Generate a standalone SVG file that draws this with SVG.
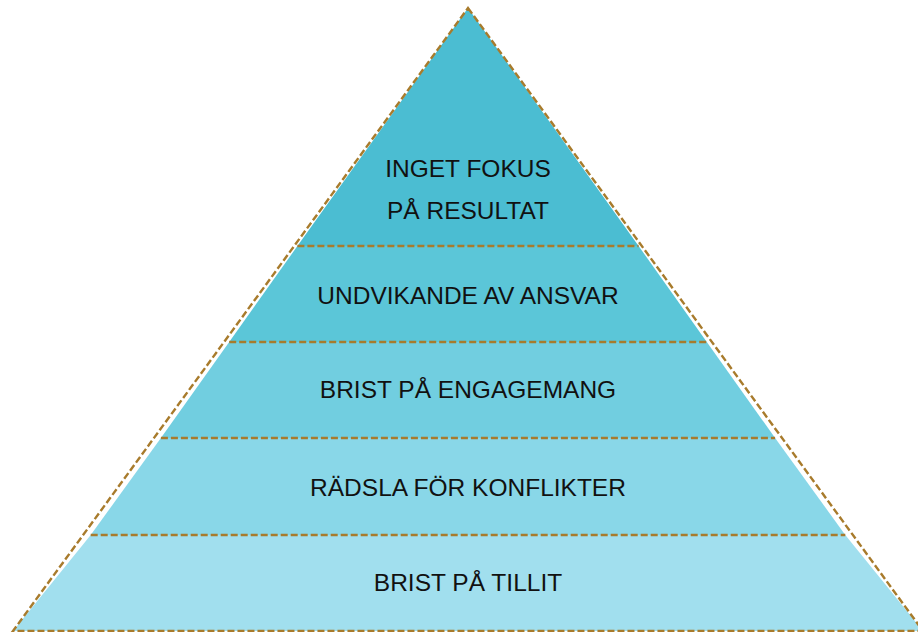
<svg xmlns="http://www.w3.org/2000/svg" width="918" height="632" viewBox="0 0 918 632">
<style>
.lbl{font-family:"Liberation Sans",Arial,sans-serif;font-size:24.5px;fill:#111;text-anchor:middle}
.edge{stroke:#A87B2C;stroke-width:2.4;stroke-dasharray:7 3;fill:none}
</style>
<rect width="918" height="632" fill="#fff"/>
<g id="layer5"><polygon points="90.7,535 845.3,535 923,631 13,631" fill="#A1DFEE"/><text class="lbl" x="468" y="591">BRIST PÅ TILLIT</text></g>
<g id="layer4"><polygon points="160.9,438 775.1,438 845.3,535 90.7,535" fill="#89D7E8"/><text class="lbl" x="468" y="496">RÄDSLA FÖR KONFLIKTER</text></g>
<g id="layer3"><polygon points="229.2,342 706.8,342 775.1,438 160.9,438" fill="#71CEE0"/><text class="lbl" x="468" y="398">BRIST PÅ ENGAGEMANG</text></g>
<g id="layer2"><polygon points="297.4,246 638.6,246 706.8,342 229.2,342" fill="#5BC6D8"/><text class="lbl" x="468" y="304">UNDVIKANDE AV ANSVAR</text></g>
<g id="layer1"><polygon points="468,8 638.6,246 297.4,246" fill="#4BBDD2"/><text class="lbl" x="468" y="177">INGET FOKUS</text><text class="lbl" x="468" y="219">PÅ RESULTAT</text></g>
<g id="connectors">
<polygon class="edge" points="468,8 923,631 13,631"/>
<line class="edge" x1="297.4" y1="246" x2="638.6" y2="246"/>
<line class="edge" x1="229.2" y1="342" x2="706.8" y2="342"/>
<line class="edge" x1="160.9" y1="438" x2="775.1" y2="438"/>
<line class="edge" x1="90.7" y1="535" x2="845.3" y2="535"/>
</g>
</svg>
